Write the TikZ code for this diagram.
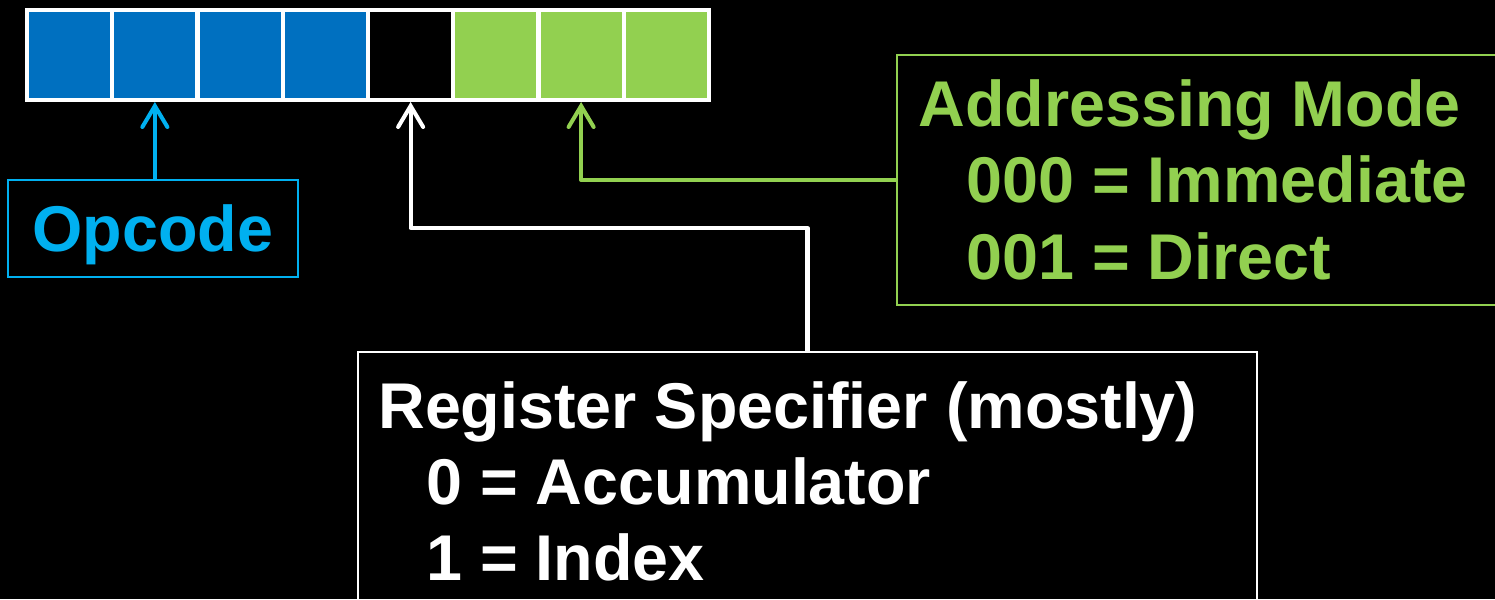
\documentclass[tikz,border=0pt]{standalone}
\usepackage{fontspec}
\setmainfont{Liberation Sans}
\usetikzlibrary{arrows.meta,positioning,calc}
\definecolor{fmblue}{HTML}{0070C0}
\definecolor{fmcyan}{HTML}{00B0F0}
\definecolor{fmgreen}{HTML}{92D050}
\tikzset{
  cell/.style={draw=white,line width=2.3pt,minimum width=1.705cm,minimum height=1.8cm,
               inner sep=0pt},
  frame/.style={draw,line width=1.2pt,inner sep=0pt},
  txt/.style={font=\fontsize{36.8pt}{43pt}\selectfont\bfseries,inner sep=0pt,anchor=base west},
  wire/.style={line width=2.3pt,line cap=round,line join=round,
               -{Straight Barb[length=4.2mm,width=5mm,line cap=round]}},
}

\begin{document}
\begin{tikzpicture}[x=0.02cm,y=-0.02cm]
  \useasboundingbox (0,0) rectangle (1495,599);
  \fill[black] (0,0) rectangle (1495,599);
  % instruction word
  \foreach \c [count=\j] in {fmblue,fmblue,fmblue,fmblue,black,fmgreen,fmgreen,fmgreen}
    {\node[cell,fill=\c] (b\j) at ({27+85.25*(\j-0.5)},55) {};}
  % field boxes
  \node[frame,draw=fmcyan,text=fmcyan,minimum width=5.8cm,minimum height=1.94cm,
        font=\fontsize{36.8pt}{43pt}\selectfont\bfseries,text depth=0pt] (op) at (153,228.5) {Opcode};
  \node[frame,draw=fmgreen,minimum width=12.66cm,minimum height=5cm] (mode) at (1213.5,180) {};
  \node[frame,draw=white,line width=1.6pt,minimum width=17.98cm,minimum height=5.76cm] (reg) at (807.5,496) {};
  \node[txt,text=fmgreen] (m1) at (918,126) {Addressing Mode};
  \node[txt,text=fmgreen] (m2) at (966,202) {000 = Immediate};
  \node[txt,text=fmgreen] (m3) at (966,279) {001 = Direct};
  \node[txt,text=white] (r1) at (378,428) {Register Specifier (mostly)};
  \node[txt,text=white] (r2) at (426,504) {0 = Accumulator};
  \node[txt,text=white] (r3) at (426,580) {1 = Index};
  % connectors
  \coordinate (rbend) at (b5.south |- 0,228);
  \draw[wire,fmcyan] (op.north -| b2.south) -- (b2.south);
  \draw[wire,white] (reg.north) |- (rbend) -- (b5.south);
  \draw[wire,fmgreen] (mode.west) -| (b7.south);
\end{tikzpicture}
\end{document}
